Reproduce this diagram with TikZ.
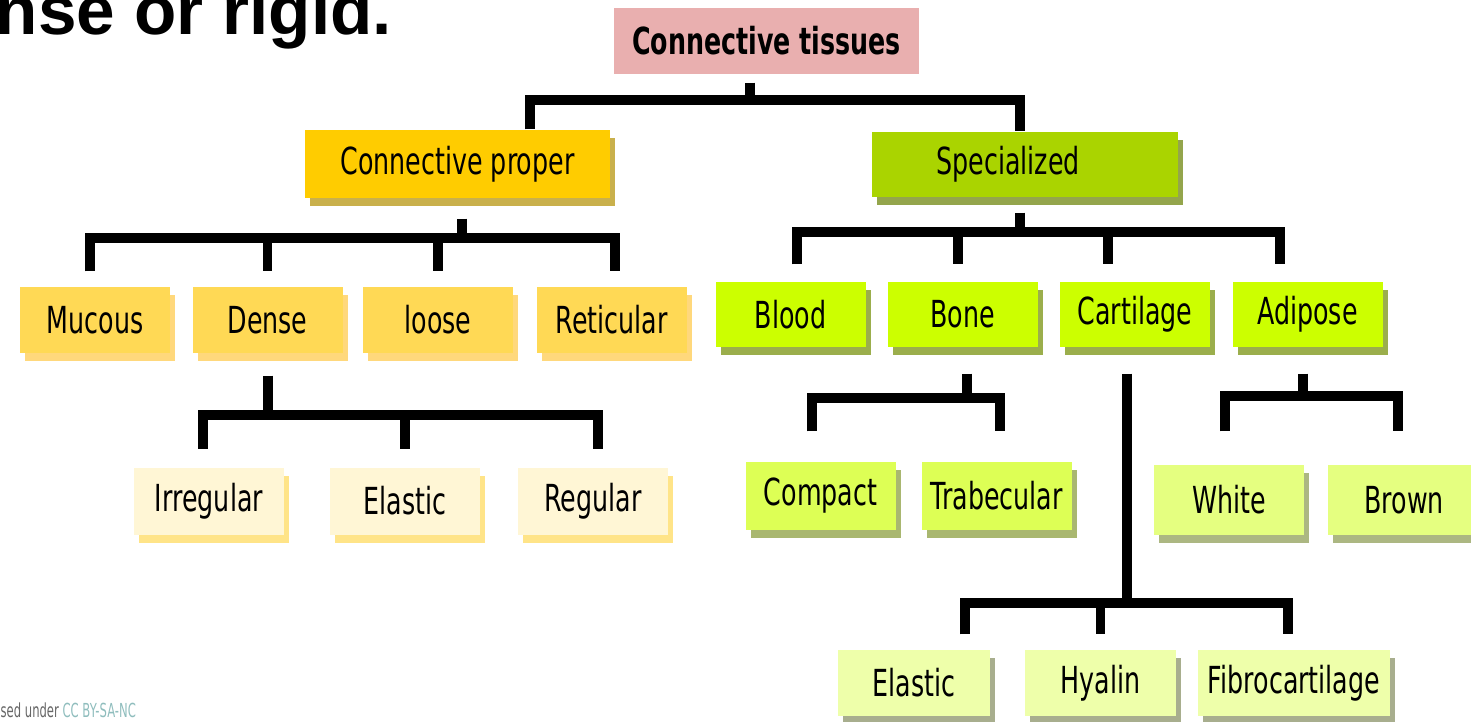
\documentclass[tikz,border=0pt]{standalone}
\usepackage{fontspec}
\setmainfont{DejaVu Sans}[FakeStretch=0.68]
\newfontfamily\headfont{Liberation Sans}
\newfontfamily\notefont{DejaVu Sans}[FakeStretch=0.6]
\usetikzlibrary{shadows}

\definecolor{tissuepink}{HTML}{E9AFAF}
\definecolor{properyellow}{HTML}{FFCC00}
\definecolor{specialgreen}{HTML}{AAD400}
\definecolor{kindyellow}{HTML}{FFD955}
\definecolor{kindgreen}{HTML}{CCFF00}
\definecolor{denseyellow}{HTML}{FFF6D5}
\definecolor{bonegreen}{HTML}{DDFF55}
\definecolor{adiposegreen}{HTML}{E5FF80}
\definecolor{cartgreen}{HTML}{EEFFAA}
\definecolor{notegrey}{HTML}{666666}
\definecolor{noteteal}{HTML}{8FBDBD}

\tikzset{
	box/.style={rectangle, fill=#1, minimum width=1.5cm, minimum height=0.66cm, inner sep=0pt,
		font=\fontsize{10.6}{13}\selectfont, text centered},
	shade/.style={drop shadow={shadow xshift=0.05cm, shadow yshift=-0.08cm, fill=#1, opacity=0.7}},
	tree/.style={line width=2.6pt, line join=miter}
}

\begin{document}
\begin{tikzpicture}
		\clip (0,0) rectangle (14.71,-7.21);
		
		%Texts at the edges
		\node (heading) at (-0.05,-0.34) [anchor=base west, inner sep=0pt, 
		font=\headfont\bfseries\fontsize{19.7}{22}\selectfont]{nse or rigid.};
		
		\node (licence) at (0,-7.17) [anchor=base west, inner sep=0pt, 
		font=\notefont\fontsize{5.5}{6}\selectfont, text=notegrey]{sed under \textcolor{noteteal}{CC BY-SA-NC}};
		
		%Nodes
		\node (tissues) at (7.665,-0.41) [box=tissuepink, minimum width=3.05cm, 
		font=\bfseries\fontsize{10.6}{13}\selectfont]{Connective tissues};
		
		\node (proper) at (4.575,-1.64) [box=properyellow, shade=properyellow!70!black, 
		minimum width=3.05cm, minimum height=0.68cm]{Connective proper};
		
		\node (special) at (10.25,-1.645) [box=specialgreen, shade=specialgreen!60!black, 
		minimum width=3.06cm, minimum height=0.65cm]{Specialized\hspace*{0.34cm}};
		
		%Kinds of connective proper
		\node (mucous) at (0.95,-3.2) [box=kindyellow, shade=kindyellow!80!orange]{Mucous};
		\node (dense) at (2.675,-3.2) [box=kindyellow, shade=kindyellow!80!orange]{Dense};
		\node (loose) at (4.38,-3.2) [box=kindyellow, shade=kindyellow!80!orange]{loose};
		\node (reticular) at (6.115,-3.2) [box=kindyellow, shade=kindyellow!80!orange]{Reticular};
		
		%Kinds of specialized
		\node (blood) at (7.905,-3.145) [box=kindgreen, shade=kindgreen!55!black, minimum height=0.65cm]{Blood};
		\node (bone) at (9.625,-3.145) [box=kindgreen, shade=kindgreen!55!black, minimum height=0.65cm]{Bone};
		\node (cartilage) at (11.35,-3.145) [box=kindgreen, shade=kindgreen!55!black, minimum height=0.65cm]{Cartilage};
		\node (adipose) at (13.075,-3.145) [box=kindgreen, shade=kindgreen!55!black, minimum height=0.65cm]{Adipose};
		
		%Dense
		\node (irregular) at (2.09,-5.01) [box=denseyellow, shade=kindyellow, minimum height=0.67cm]{Irregular};
		\node (denseelastic) at (4.05,-5.01) [box=denseyellow, shade=kindyellow, minimum height=0.67cm]{Elastic};
		\node (regular) at (5.93,-5.01) [box=denseyellow, shade=kindyellow, minimum height=0.67cm]{Regular};
		
		%Bone
		\node (compact) at (8.205,-4.96) [box=bonegreen, shade=bonegreen!60!black, minimum height=0.68cm]{Compact};
		\node (trabecular) at (9.965,-4.96) [box=bonegreen, shade=bonegreen!60!black, minimum height=0.68cm]{Trabecular};
		
		%Adipose
		\node (white) at (12.29,-5.0) [box=adiposegreen, shade=adiposegreen!60!black, minimum height=0.7cm]{White};
		\node (brown) at (14.04,-5.0) [box=adiposegreen, shade=adiposegreen!60!black, minimum height=0.7cm, 
		minimum width=1.52cm]{Brown};
		
		%Cartilage
		\node (cartelastic) at (9.14,-6.83) [box=cartgreen, shade=cartgreen!55!black, minimum width=1.52cm]{Elastic};
		\node (hyalin) at (11.005,-6.83) [box=cartgreen, shade=cartgreen!55!black, minimum width=1.51cm]{Hyalin};
		\node (fibro) at (12.94,-6.83) [box=cartgreen, shade=cartgreen!55!black, minimum width=1.92cm]{Fibrocartilage};
		
		%Bars
		\coordinate (topbar) at (7.5,-1.0);
		\coordinate (properbar) at (4.62,-2.38);
		\coordinate (specialbar) at (10.2,-2.32);
		\coordinate (densebar) at (2.68,-4.15);
		\coordinate (bonebar) at (9.67,-3.98);
		\coordinate (cartbar) at (11.27,-6.03);
		\coordinate (adiposebar) at (13.03,-3.96);
		\coordinate (bonetop) at ([xshift=-0.045cm]bone.north);
		\coordinate (carttop) at ([xshift=-0.27cm]cartilage.north);
		
		%Links
		\draw[tree, shorten <=0.08cm] (topbar |- tissues.south) -- (topbar);
		\draw[tree] ([xshift=0.725cm]proper.north) |- (topbar) -| ([xshift=-0.05cm]special.north);
		
		\draw[tree, shorten <=0.2cm] (properbar |- proper.south) -- (properbar);
		\draw[tree, shorten <=0.15cm, shorten >=0.15cm] ([xshift=-0.05cm]mucous.north) |- (properbar) 
		-| ([xshift=0.035cm]reticular.north);
		\draw[tree, shorten >=0.15cm] (properbar -| dense.north) -- (dense.north);
		\draw[tree, shorten >=0.15cm] (properbar -| loose.north) -- (loose.north);
		
		\draw[tree, shorten <=0.15cm] (specialbar |- special.south) -- (specialbar);
		\draw[tree, shorten <=0.17cm, shorten >=0.17cm] ([xshift=0.065cm]blood.north) |- (specialbar) 
		-| ([xshift=-0.275cm]adipose.north);
		\draw[tree, shorten >=0.17cm] (specialbar -| bonetop) -- (bonetop);
		\draw[tree, shorten >=0.17cm] (specialbar -| carttop) -- (carttop);
		
		\draw[tree, shorten <=0.22cm] (densebar |- dense.south) -- (densebar);
		\draw[tree, shorten <=0.18cm, shorten >=0.18cm] ([xshift=-0.06cm]irregular.north) |- (densebar) 
		-| ([xshift=0.05cm]regular.north);
		\draw[tree, shorten >=0.18cm] (densebar -| denseelastic.north) -- (denseelastic.north);
		
		\draw[tree, shorten <=0.26cm] (bonebar |- bone.south) -- (bonebar);
		\draw[tree, shorten <=0.3cm, shorten >=0.3cm] ([xshift=-0.085cm]compact.north) |- (bonebar) 
		-| ([xshift=0.035cm]trabecular.north);
		
		\draw[tree, shorten <=0.26cm] (cartbar |- cartilage.south) -- (cartbar);
		\draw[tree, shorten <=0.15cm, shorten >=0.15cm] ([xshift=0.51cm]cartelastic.north) |- (cartbar) 
		-| ([xshift=-0.06cm]fibro.north);
		\draw[tree, shorten >=0.15cm] (cartbar -| hyalin.north) -- (hyalin.north);
		
		\draw[tree, shorten <=0.26cm] (adiposebar |- adipose.south) -- (adiposebar);
		\draw[tree, shorten <=0.33cm, shorten >=0.33cm] ([xshift=-0.04cm]white.north) |- (adiposebar) 
		-| ([xshift=-0.06cm]brown.north);
\end{tikzpicture}
\end{document}
